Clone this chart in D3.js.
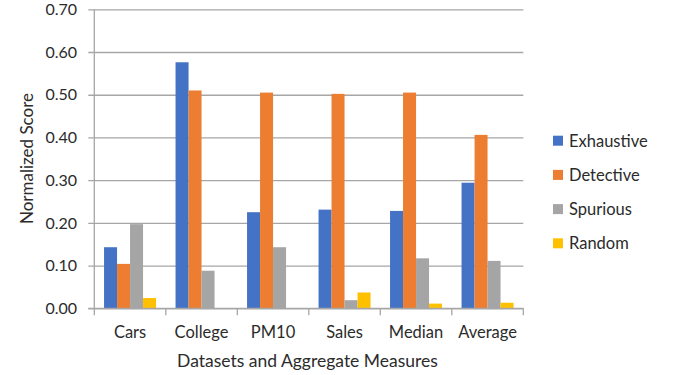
<!DOCTYPE html>
<html>
<head>
<meta charset="utf-8">
<script src="https://cdn.jsdelivr.net/npm/d3@7/dist/d3.min.js"></script>
<style>
  html, body { margin: 0; padding: 0; background: #fff; }
  svg { display: block; font-family: Lato, "Open Sans", sans-serif; }
</style>
</head>
<body>
<svg id="chart" width="683" height="375"></svg>
<script>
// Datasets / aggregate measures along the x axis
const categories = ["Cars", "College", "PM10", "Sales", "Median", "Average"];

// Normalized score per method
const seriesNames = ["Exhaustive", "Detective", "Spurious", "Random"];
const exhaustive = [0.143, 0.576, 0.225, 0.231, 0.228, 0.294];
const detective  = [0.104, 0.510, 0.505, 0.502, 0.505, 0.406];
const spurious   = [0.197, 0.088, 0.143, 0.019, 0.117, 0.111];
const random     = [0.024, 0.000, 0.000, 0.037, 0.011, 0.013];

const yTicks = [0, 0.1, 0.2, 0.3, 0.4, 0.5, 0.6, 0.7];
const colors = ["#4472C4", "#ED7D31", "#A5A5A5", "#FFC000"];

const seriesValues = [exhaustive, detective, spurious, random];

const svg = d3.select("#chart");
const plotLeft = 94.3, plotRight = 523.3, plotTop = 9.3, plotBottom = 308.3;
const textColor = "#2b2b2b";
const gridColor = "#a6a6a6";

const x = d3.scaleBand().domain(categories).range([plotLeft, plotRight]).paddingInner(0).paddingOuter(0);
const xInner = d3.scaleBand().domain(seriesNames).range([0, x.bandwidth()]).paddingInner(0).paddingOuter(0.75);
const y = d3.scaleLinear().domain([0, 0.7]).range([plotBottom, plotTop]);
const color = d3.scaleOrdinal().domain(seriesNames).range(colors);

// Horizontal gridlines, extended past the value axis as tick marks
const gy = svg.append("g").attr("transform", `translate(${plotRight},0)`)
  .call(d3.axisLeft(y).tickValues(yTicks).tickSize(plotRight - plotLeft + 6).tickFormat(""));
gy.select(".domain").remove();
gy.selectAll(".tick line").attr("stroke", gridColor).attr("stroke-width", 1.3);

// Tick labels
svg.append("g").selectAll("text").data(yTicks).join("text")
  .attr("x", 77).attr("y", d => y(d)).attr("dy", "0.36em")
  .attr("text-anchor", "end").attr("font-size", 16).attr("fill", textColor)
  .text(d3.format(".2f"));

// Vertical axis line
svg.append("line").attr("x1", plotLeft).attr("x2", plotLeft).attr("y1", plotTop).attr("y2", plotBottom)
  .attr("stroke", gridColor).attr("stroke-width", 1.3);

// Bars
const groups = svg.append("g").selectAll("g").data(categories).join("g")
  .attr("transform", d => `translate(${x(d)},0)`);
groups.selectAll("rect")
  .data((c, i) => seriesNames.map((s, j) => ({ s, v: seriesValues[j][i] })))
  .join("rect")
  .attr("x", d => xInner(d.s))
  .attr("width", xInner.bandwidth())
  .attr("y", d => y(d.v))
  .attr("height", d => y(0) - y(d.v))
  .attr("fill", d => color(d.s));

// Category axis with ticks between bands
const bandEdges = categories.map(c => x(c)).concat([plotRight]);
svg.append("line").attr("x1", plotLeft - 6).attr("x2", plotRight).attr("y1", plotBottom).attr("y2", plotBottom)
  .attr("stroke", gridColor).attr("stroke-width", 1.3);
svg.append("g").selectAll("line").data(bandEdges).join("line")
  .attr("x1", d => d).attr("x2", d => d).attr("y1", plotBottom).attr("y2", plotBottom + 7)
  .attr("stroke", gridColor).attr("stroke-width", 1.3);
svg.append("g").selectAll("text").data(categories).join("text")
  .attr("x", d => x(d) + x.bandwidth() / 2).attr("y", 338)
  .attr("text-anchor", "middle").attr("font-size", 16.5).attr("fill", textColor)
  .text(d => d);

// Axis titles
svg.append("text").attr("x", 307.5).attr("y", 367)
  .attr("text-anchor", "middle").attr("font-size", 17.5).attr("fill", textColor)
  .text("Datasets and Aggregate Measures");
svg.append("text").attr("transform", "translate(33,158.5) rotate(-90)")
  .attr("text-anchor", "middle").attr("font-size", 17).attr("fill", textColor)
  .text("Normalized Score");

// Legend
const legend = svg.append("g").selectAll("g").data(seriesNames).join("g")
  .attr("transform", (d, i) => `translate(553,${140.7 + i * 34.2})`);
legend.append("rect").attr("x", 0).attr("y", -5).attr("width", 10).attr("height", 10)
  .attr("fill", d => color(d));
legend.append("text").attr("x", 16).attr("y", 0).attr("dy", "0.36em")
  .attr("font-size", 16.5).attr("fill", textColor).text(d => d);
</script>
</body>
</html>
